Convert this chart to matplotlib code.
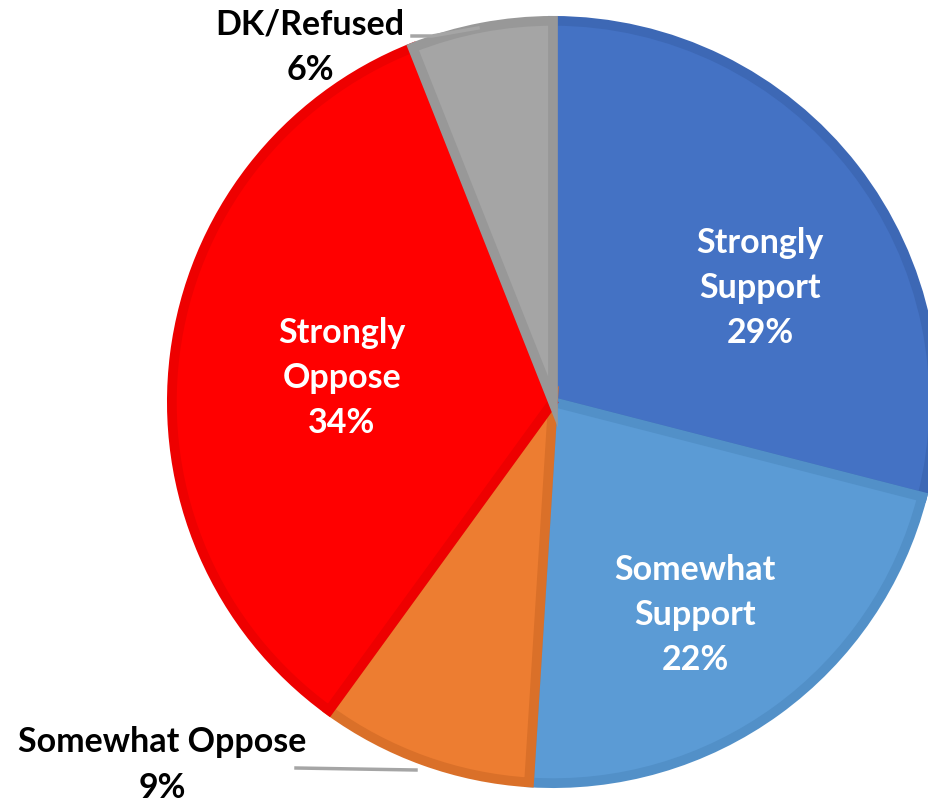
import matplotlib.pyplot as plt

labels = ["Strongly\nSupport", "Somewhat\nSupport", "Somewhat Oppose", "Strongly\nOppose", "DK/Refused"]
values = [29, 22, 9, 34, 6]
colors = ["#4472C4", "#5B9BD5", "#ED7D31", "#FF0000", "#A5A5A5"]
edges = ["#3D68B5", "#5290C8", "#DA7029", "#EE0000", "#989898"]

W, H = 929, 802
CX, CY, R = 553, 402, 385


def px(x, y):
    # pixel position -> data coords (pie centre at 0,0, radius 1)
    return (x - CX) / R, (CY - y) / R


plt.rcParams['font.family'] = ['Lato', 'DejaVu Sans']
fig = plt.figure(figsize=(W / 100, H / 100), dpi=100)
ax = fig.add_axes([0, 0, 1, 1])

wedges, _ = ax.pie(values, colors=colors, startangle=90, counterclock=False,
                   radius=0.99, center=(0, 0),
                   wedgeprops=dict(linewidth=7, joinstyle='miter'))
for w, ec in zip(wedges, edges):
    w.set_edgecolor(ec)

ax.set_xlim(-CX / R, (W - CX) / R)
ax.set_ylim((CY - H) / R, CY / R)
ax.set_aspect('equal')
ax.axis('off')

fs = 24.5
inside = {0: (760, 288), 1: (695, 615), 3: (342, 378)}
for i, (x, y) in inside.items():
    ax.text(*px(x, y), f"{labels[i]}\n{values[i]}%", color="white", fontsize=fs,
            fontweight="bold", ha="center", va="center", linespacing=1.5)

outside = {4: (310, 47), 2: (162, 765)}
for i, (x, y) in outside.items():
    ax.text(*px(x, y), f"{labels[i]}\n{values[i]}%", color="black", fontsize=fs,
            fontweight="bold", ha="center", va="center", linespacing=1.5)

# leader lines
lx, ly = zip(px(412, 36), px(432, 36), px(478, 28))
ax.plot(lx, ly, color="#A5A5A5", lw=2.5)
lx, ly = zip(px(296, 768), px(416, 770))
ax.plot(lx, ly, color="#A5A5A5", lw=2.5)

fig.savefig("out.png", dpi=100)
